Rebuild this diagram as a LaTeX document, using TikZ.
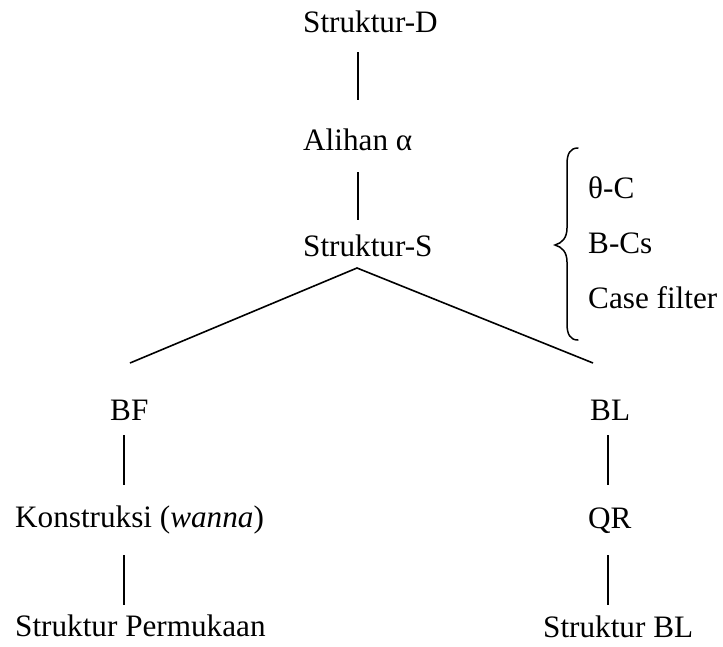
\documentclass[tikz,border=0pt]{standalone}
\usepackage{fontspec}
\setmainfont{Liberation Serif}
\begin{document}
\begin{tikzpicture}[x=1pt,y=-1pt,
  lbl/.style={anchor=base west, inner sep=0pt, font=\fontsize{31.2}{37}\selectfont},
  link/.style={line width=1.6pt},
  bracestyle/.style={line width=1.5pt, line cap=round}]
\useasboundingbox (0,0) rectangle (723,646);

% central trunk
\node[lbl] (sd) at (303,32) {Struktur-D};
\node[lbl] (al) at (303,150) {Alihan α};
\node[lbl] (ss) at (303,256) {Struktur-S};

% conditions next to the S-structure
\node[lbl] (tc) at (588,198) {θ-C};
\node[lbl] (bc) at (588,253) {B-Cs};
\node[lbl] (cf) at (588,308) {Case filter};

% left branch
\node[lbl] (bf) at (110,420) {BF};
\node[lbl] (ko) at (15,527) {Konstruksi (\textit{wanna})};
\node[lbl] (sp) at (15,636) {Struktur Permukaan};

% right branch
\node[lbl] (bl) at (590,420) {BL};
\node[lbl] (qr) at (588,528) {QR};
\node[lbl] (sb) at (543,637) {Struktur BL};

% connector end points
\coordinate (sd-b) at (358,52);
\coordinate (al-t) at (358,100);
\coordinate (al-b) at (358,172);
\coordinate (ss-t) at (358,220);
\coordinate (apex) at (357,268);
\coordinate (bf-t) at (130,363);
\coordinate (bl-t) at (593,363);
\coordinate (bf-b) at (124,435);
\coordinate (ko-t) at (124,485);
\coordinate (ko-b) at (124,555);
\coordinate (sp-t) at (124,605);
\coordinate (bl-b) at (608,435);
\coordinate (qr-t) at (608,485);
\coordinate (qr-b) at (608,555);
\coordinate (sb-t) at (608,605);

\draw[link] (sd-b) -- (al-t);
\draw[link] (al-b) -- (ss-t);
\draw[link] (bf-t) -- (apex) -- (bl-t);
\draw[link] (bf-b) -- (ko-t);
\draw[link] (ko-b) -- (sp-t);
\draw[link] (bl-b) -- (qr-t);
\draw[link] (qr-b) -- (sb-t);

% curly brace
\coordinate (br-top) at (578,148);
\coordinate (br-tip) at (555,245);
\coordinate (br-bot) at (578,340);
\draw[bracestyle] (br-top) .. controls (570,148) and (567,154) .. (567,164)
  -- (567,228) .. controls (567,238) and (562,243) .. (br-tip)
  .. controls (562,247) and (567,252) .. (567,262)
  -- (567,324) .. controls (567,334) and (570,340) .. (br-bot);
\end{tikzpicture}
\end{document}
